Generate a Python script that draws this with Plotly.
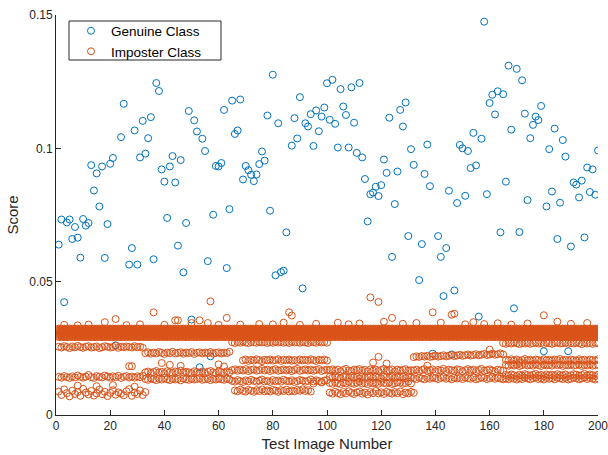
import plotly.graph_objects as go

# ---------------- data (scores) ----------------
test_image = list(range(1, 201))

genuine_scores = [
    0.0639, 0.0733, 0.0423, 0.0722, 0.0733, 0.0660, 0.0705, 0.0665, 0.0590, 0.0735,
    0.0710, 0.0720, 0.0937, 0.0842, 0.0906, 0.0782, 0.0932, 0.0589, 0.0716, 0.0942,
    0.0964, 0.0261, 0.0310, 0.1042, 0.1167, 0.0305, 0.0564, 0.0626, 0.1067, 0.0564,
    0.0966, 0.1103, 0.0980, 0.1038, 0.1117, 0.0584, 0.1245, 0.1215, 0.0921, 0.0875,
    0.0739, 0.0932, 0.0971, 0.0872, 0.0635, 0.0956, 0.0535, 0.0720, 0.1140, 0.0358,
    0.1105, 0.1063, 0.0179, 0.1036, 0.0990, 0.0577, 0.0220, 0.0751, 0.0934, 0.0932,
    0.0945, 0.1144, 0.0551, 0.0772, 0.1179, 0.1054, 0.1067, 0.1183, 0.0883, 0.0934,
    0.0918, 0.0901, 0.0877, 0.0902, 0.0941, 0.0988, 0.0954, 0.1123, 0.0766, 0.1276,
    0.0524, 0.1094, 0.0536, 0.0541, 0.0685, 0.0310, 0.1010, 0.1113, 0.1037, 0.1192,
    0.0475, 0.1094, 0.1082, 0.1128, 0.1009, 0.1142, 0.1064, 0.1119, 0.1153, 0.1244,
    0.1107, 0.1257, 0.1092, 0.1003, 0.1222, 0.1157, 0.1125, 0.1003, 0.1229, 0.1096,
    0.0983, 0.1245, 0.0966, 0.0885, 0.0726, 0.0828, 0.0834, 0.0856, 0.0821, 0.0862,
    0.0958, 0.0908, 0.1115, 0.0593, 0.0791, 0.0913, 0.1144, 0.1082, 0.1172, 0.0671,
    0.0997, 0.0938, 0.0308, 0.0506, 0.0641, 0.0904, 0.1014, 0.0858, 0.0230, 0.0312,
    0.0671, 0.0593, 0.0446, 0.0626, 0.0841, 0.0227, 0.0467, 0.0795, 0.1013, 0.1000,
    0.0822, 0.0990, 0.0926, 0.1058, 0.0936, 0.0369, 0.1036, 0.1475, 0.0828, 0.1170,
    0.1201, 0.1127, 0.1214, 0.0685, 0.1203, 0.0875, 0.1310, 0.1070, 0.0400, 0.1298,
    0.0686, 0.1255, 0.1130, 0.0806, 0.1038, 0.1088, 0.1119, 0.1106, 0.1159, 0.0239,
    0.0782, 0.0997, 0.0838, 0.1074, 0.0660, 0.0796, 0.1031, 0.0969, 0.0239, 0.0632,
    0.0872, 0.0864, 0.0816, 0.0879, 0.0666, 0.0928, 0.0836, 0.0921, 0.0826, 0.0992,
]

# Imposter scores (units of 1e-4). Dense main band: levels present at every image.
imposter_main_levels = [292, 296, 300, 304, 308, 312, 316, 320, 324]

# Imposter rows: first test image of the row, then one score per image.
imp_a_start = 1
imp_a = [256, 253, 258, 255, 251, 257, 254, 259, 255, 252, 256, 258, 253, 255, 257, 251,
         254, 258, 256, 253, 255, 259, 252, 256, 254, 257, 255, 253, 258, 254, 256, 252]
imp_b_start = 33
imp_b = [232, 235, 230, 234, 231, 236, 233, 229, 234, 232, 237, 231, 233, 235, 230, 234,
         232, 236, 229, 233, 235, 231, 234, 232, 236, 230, 233, 235, 231, 234, 232, 237]
imp_c_start = 65
imp_c = [273, 270, 274, 271, 275, 272, 270, 274, 273, 271, 275, 272, 274, 270, 273, 271, 275, 272,
         274, 271, 273, 270, 275, 272, 273, 271, 274, 272, 270, 274, 273, 271, 275, 272, 274, 271]
imp_d_start = 69
imp_d = [205, 208, 203, 207, 204, 209, 206, 202, 207, 205, 208, 204, 206, 209, 203, 207,
         205, 208, 204, 206, 203, 208, 205, 207, 204, 209, 206, 203, 207, 205, 208, 204]
imp_e_start = 132
imp_e = [217, 220, 218, 221, 219, 222, 218, 220, 223, 219, 221, 224, 220, 222, 225, 221, 223,
         226, 222, 224, 227, 223, 225, 228, 224, 226, 229, 225, 227, 230, 226, 228, 231, 227]
imp_f_start = 165
imp_f = [270, 267, 271, 268, 272, 269, 266, 270, 268, 271, 267, 269, 272, 268, 270, 266, 271, 269,
         267, 270, 272, 268, 269, 271, 267, 270, 268, 272, 269, 266, 271, 268, 270, 267, 271, 269]
imp_g_start = 166
imp_g = [207, 204, 209, 205, 208, 203, 206, 210, 205, 207, 204, 208, 206, 203, 209, 205, 207, 204,
         208, 206, 210, 205, 207, 203, 208, 206, 204, 209, 205, 207, 203, 208, 206, 204, 209]
imp_h_start = 166
imp_h = [188, 185, 190, 186, 189, 184, 187, 191, 186, 188, 185, 190, 187, 184, 189, 186, 188, 185,
         191, 187, 189, 184, 188, 186, 190, 185, 187, 189, 184, 188, 186, 190, 185, 187, 189]
imp_l1_start = 1
imp_l1 = [143, 140, 146, 142, 139, 145, 141, 148, 143, 140, 144, 150, 142, 139, 146, 143,
          141, 148, 144, 140, 145, 142, 147, 139, 143, 146, 141, 144, 140, 145, 142, 147]
imp_l2_start = 1
imp_l2 = [88, 75, 96, 82, 70, 91, 79, 86, 72, 98, 84, 77, 90, 73, 81, 95, 78,
          87, 71, 83, 93, 76, 85, 80, 74, 89, 97, 72, 84, 79, 92, 75, 86]
imp_m1_start = 33
imp_m1 = [160, 163, 158, 161, 165, 159, 162, 157, 164, 160, 158, 163, 161, 166, 159, 162,
          160, 157, 164, 161, 159, 163, 158, 162, 165, 160, 158, 163, 161, 159, 164, 160]
imp_m2_start = 33
imp_m2 = [135, 132, 137, 134, 131, 136, 133, 138, 134, 131, 136, 133, 135, 130, 137, 134,
          132, 136, 133, 135, 138, 132, 134, 136, 131, 135, 133, 137, 134, 132, 136, 133]
imp_n1_start = 65
imp_n1 = [168, 171, 166, 170, 167, 172, 165, 169, 171, 166, 168, 173, 167, 170, 165, 169, 172, 166,
          168, 171, 167, 170, 165, 169, 173, 166, 168, 171, 167, 170, 166, 169, 172, 165, 168, 170]
imp_n2_start = 65
imp_n2 = [128, 125, 131, 127, 124, 130, 126, 132, 128, 125, 129, 133, 126, 128, 124, 131, 127, 129,
          125, 132, 128, 126, 130, 124, 127, 131, 129, 125, 128, 133, 126, 130, 127, 124, 129, 131]
imp_n3_start = 66
imp_n3 = [92, 89, 95, 90, 88, 94, 91, 87, 93, 90, 96, 89, 92, 88, 94,
          91, 87, 93, 90, 95, 88, 92, 89, 94, 91, 96, 90, 93, 88]
imp_p1_start = 101
imp_p1 = [168, 171, 166, 170, 164, 169, 173, 167, 165, 170, 168, 172, 166, 169, 164, 171,
          167, 170, 165, 169, 173, 166, 168, 171, 164, 170, 167, 169, 172, 166, 168]
imp_p2_start = 101
imp_p2 = [143, 140, 145, 141, 138, 144, 142, 139, 146, 141, 143, 137, 144, 140, 142, 145,
          139, 143, 141, 138, 144, 142, 140, 146, 139, 143, 141, 144, 138, 142, 140]
imp_p3_start = 101
imp_p3 = [120, 117, 123, 119, 116, 122, 118, 124, 120, 117, 121, 125, 118, 120, 116, 123,
          119, 121, 117, 124, 120, 118, 122, 116, 119, 123, 121, 117, 120, 125, 118]
imp_p4_start = 101
imp_p4 = [84, 80, 87, 82, 78, 86, 81, 89, 83, 79, 85, 88, 80, 84, 77, 86,
          82, 90, 81, 85, 79, 87, 83, 80, 86, 82, 88, 78, 84, 81, 87, 83]
imp_q1_start = 132
imp_q1 = [167, 170, 165, 169, 172, 166, 168, 171, 164, 169, 167, 173, 165, 170, 168, 166, 171,
          169, 164, 168, 172, 167, 170, 165, 169, 173, 166, 168, 171, 167, 164, 170, 168, 166]
imp_q2_start = 132
imp_q2 = [138, 135, 140, 137, 134, 139, 136, 141, 138, 135, 139, 142, 136, 138, 134, 140, 137,
          139, 135, 141, 138, 136, 140, 134, 137, 141, 139, 135, 138, 142, 136, 140, 137, 134]
imp_s1_start = 166
imp_s1 = [150, 147, 152, 149, 146, 151, 148, 153, 150, 147, 151, 154, 148, 150, 146, 152, 149, 151,
          147, 153, 150, 148, 152, 146, 149, 153, 151, 147, 150, 154, 148, 152, 149, 146, 151]
imp_s2_start = 166
imp_s2 = [137, 134, 139, 136, 133, 138, 135, 140, 137, 134, 138, 141, 135, 137, 133, 139, 136, 138,
          134, 140, 137, 135, 139, 133, 136, 140, 138, 134, 137, 141, 135, 139, 136, 133, 138]

# scattered imposter scores (image, score in 1e-4)
imp_out_x = [3, 8, 12, 18, 22, 26, 31, 36, 40, 44, 45, 50, 53, 56, 57, 60, 63, 68, 75, 80,
             84, 86, 87, 90, 96, 104, 108, 112, 116, 119, 121, 124, 128, 133, 139, 142, 146, 147, 151, 154,
             158, 163, 168, 174, 180, 185, 190, 196, 27, 28, 39, 42, 46, 8, 15, 21, 29, 117,
             122, 119, 60, 95, 98, 62, 137, 160, 171]
imp_out_y = [338, 336, 339, 348, 360, 337, 340, 385, 338, 355, 355, 345, 355, 345, 426, 338, 364, 339, 341, 340,
             346, 385, 373, 338, 342, 346, 340, 343, 441, 424, 350, 364, 342, 345, 385, 346, 376, 380, 340, 348,
             341, 344, 339, 343, 374, 350, 342, 345, 183, 183, 195, 188, 184, 110, 108, 112, 106, 197,
             193, 218, 190, 118, 122, 182, 185, 245, 195]

x_ticks = [0, 20, 40, 60, 80, 100, 120, 140, 160, 180, 200]
y_ticks = [0, 0.05, 0.1, 0.15]
y_tick_labels = ["0", "0.05", "0.1", "0.15"]

# ---------------- build imposter table ----------------
imp_x, imp_y = [], []
for lvl in imposter_main_levels:
    for t in test_image:
        imp_x.append(t)
        imp_y.append(lvl * 1e-4)
rows = [
    (imp_a_start, imp_a), (imp_b_start, imp_b), (imp_c_start, imp_c), (imp_d_start, imp_d),
    (imp_e_start, imp_e), (imp_f_start, imp_f), (imp_g_start, imp_g), (imp_h_start, imp_h),
    (imp_l1_start, imp_l1), (imp_l2_start, imp_l2), (imp_m1_start, imp_m1), (imp_m2_start, imp_m2),
    (imp_n1_start, imp_n1), (imp_n2_start, imp_n2), (imp_n3_start, imp_n3),
    (imp_p1_start, imp_p1), (imp_p2_start, imp_p2), (imp_p3_start, imp_p3), (imp_p4_start, imp_p4),
    (imp_q1_start, imp_q1), (imp_q2_start, imp_q2), (imp_s1_start, imp_s1), (imp_s2_start, imp_s2),
]
for start, vals in rows:
    for i, v in enumerate(vals):
        imp_x.append(start + i)
        imp_y.append(v * 1e-4)
for xv, yv in zip(imp_out_x, imp_out_y):
    imp_x.append(xv)
    imp_y.append(yv * 1e-4)

BLUE = "#0072BD"
ORANGE = "#D95319"
AXC = "#262626"
FONT = "Liberation Sans, Arial, Helvetica, sans-serif"

# plot area in pixels
L, R, T, B = 56, 598, 15, 415
W, H = R - L, B - T

fig = go.Figure()
fig.add_trace(go.Scatter(
    x=test_image, y=genuine_scores, mode="markers", name="Genuine Class",
    marker=dict(symbol="circle-open", size=7, color=BLUE, line=dict(width=1, color=BLUE)),
))
fig.add_trace(go.Scatter(
    x=imp_x, y=imp_y, mode="markers", name="Imposter Class",
    marker=dict(symbol="circle-open", size=7, color=ORANGE, line=dict(width=1, color=ORANGE)),
))

# legend frame
fig.add_shape(
    type="rect", xref="paper", yref="paper",
    x0=(69 - L) / W, x1=(221 - L) / W,
    y0=(B - 60) / H, y1=(B - 21) / H,
    line=dict(color=AXC, width=1), fillcolor="white", layer="above",
)

fig.update_layout(
    width=608, height=455,
    margin=dict(l=L, r=608 - R, t=T, b=455 - B, pad=0, autoexpand=False),
    paper_bgcolor="white", plot_bgcolor="white",
    font=dict(family=FONT, color=AXC, size=12),
    showlegend=True,
    legend=dict(
        x=(71 - L) / W, y=(B - 15.5) / H, xanchor="left", yanchor="top",
        borderwidth=0, bgcolor="rgba(0,0,0,0)",
        font=dict(size=13.5, color="#000000"),
        tracegroupgap=0,
    ),
    xaxis=dict(
        range=[0, 200], tickmode="array", tickvals=x_ticks,
        ticks="inside", ticklen=5, tickcolor=AXC, tickwidth=1,
        showline=True, linecolor=AXC, linewidth=1, mirror=False,
        showgrid=False, zeroline=False, ticklabeloverflow="allow",
        tickfont=dict(size=12, color=AXC),
        title=dict(text="Test Image Number", font=dict(size=15, color=AXC), standoff=6),
    ),
    yaxis=dict(
        range=[0, 0.15], tickmode="array", tickvals=y_ticks, ticktext=y_tick_labels,
        ticks="inside", ticklen=5, tickcolor=AXC, tickwidth=1,
        showline=True, linecolor=AXC, linewidth=1, mirror=False,
        showgrid=False, zeroline=False, ticklabeloverflow="allow",
        tickfont=dict(size=12, color=AXC),
        title=dict(text="Score", font=dict(size=15, color=AXC), standoff=6),
    ),
)

fig.write_html(
    "out.html",
    config={"displayModeBar": False},
    post_script="document.body.style.margin='0';document.body.style.padding='0';",
)
